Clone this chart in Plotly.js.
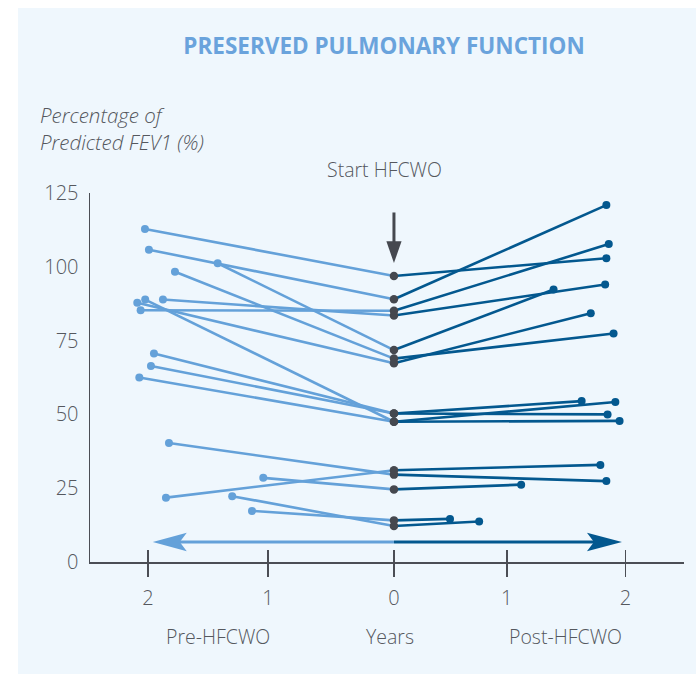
<!DOCTYPE html>
<html>
<head>
<meta charset="utf-8">
<script src="https://cdn.plot.ly/plotly-3.0.1.min.js"></script>
<style>
  html, body { margin:0; padding:0; background:#ffffff; }
  #panel { position:absolute; left:18px; top:8px; width:678px; height:666px; background:#eff7fd; }
  #chart { position:absolute; left:0; top:0; width:696px; height:674px; }
</style>
</head>
<body>
<div id="panel"></div>
<div id="chart"></div>
<script>
// ---- Data ----
const subjects   = ['A','B','C','D','E','F','G','H','I','J','K','L','M','N','O','P'];
const preYears   = [-2.075,-2.042,-1.469,-1.825,-2.139,-2.073,-1.925,-2.111,-2.0,-2.025,-2.122,-1.875,-1.089,-1.9,-1.348,-1.183];
const preFEV1    = [112.8, 105.8, 101.2, 98.3, 87.8, 88.9, 88.9, 85.3, 70.6, 66.4, 62.5, 40.3, 28.5, 21.8, 22.3, 17.3];
const startFEV1  = [96.9, 89.0, 71.8, 68.9, 67.3, 47.5, 83.5, 85.1, 50.3, 50.3, 47.5, 29.6, 24.6, 31.1, 12.2, 14.1];
const postYears  = [1.77, 1.77, 1.33, 1.83, 1.64, 1.88, 1.76, 1.79, 1.78, 1.564, 1.845, 1.77, 1.06, 1.72, 0.71, 0.467];
const postFEV1   = [102.9, 120.9, 92.3, 77.4, 84.3, 47.8, 94.0, 107.7, 50.0, 54.5, 54.2, 27.4, 26.2, 32.9, 13.7, 14.6];

const yTickVals  = [0, 25, 50, 75, 100, 125];
const xTickVals  = [-2.05, -1.05, 0, 0.94, 1.93];
const xTickText  = ['2', '1', '0', '1', '2'];

// arrow annotations
const startArrowTop = 118.4, startArrowTip = 101.3;
const spanArrowY = 6.8, spanArrowLeft = -2.01, spanArrowRight = 1.9;

// ---- Styles ----
const LIGHT = '#64a1d9';
const DARK  = '#03588f';
const GREY  = '#45484f';
const AXIS  = '#4b4e55';
const TEXT  = '#55585e';
const FONT  = 'Open Sans, Noto Sans, sans-serif';

// build segment traces
const preX = [], preY = [], postX = [], postY = [];
subjects.forEach((s, i) => {
  preX.push(preYears[i], 0, null);  preY.push(preFEV1[i], startFEV1[i], null);
  postX.push(0, postYears[i], null); postY.push(startFEV1[i], postFEV1[i], null);
});
const zeros = subjects.map(() => 0);

const traces = [
  {x: preX, y: preY, mode:'lines', line:{color:LIGHT, width:2.6}, hoverinfo:'skip', showlegend:false},
  {x: postX, y: postY, mode:'lines', line:{color:DARK, width:2.6}, hoverinfo:'skip', showlegend:false},
  {x: preYears, y: preFEV1, mode:'markers', marker:{color:LIGHT, size:8}, showlegend:false},
  {x: postYears, y: postFEV1, mode:'markers', marker:{color:DARK, size:8}, showlegend:false},
  {x: zeros, y: startFEV1, mode:'markers', marker:{color:GREY, size:8.5}, showlegend:false},
  {x: [0], y: [0], xaxis:'x2', mode:'markers', marker:{opacity:0, size:1}, hoverinfo:'skip', showlegend:false}
];

const xRange = [-2.533, 2.417];
const LBL = {family: FONT, size: 19.5, color: TEXT, weight: 300};

const layout = {
  width: 696, height: 674,
  paper_bgcolor: 'rgba(0,0,0,0)', plot_bgcolor: 'rgba(0,0,0,0)',
  margin: {l: 90, r: 12, t: 193, b: 112.3},
  font: {family: FONT, color: TEXT},
  title: {text: '<b>PRESERVED PULMONARY FUNCTION</b>', x: 384/696, xanchor:'center', y: 1 - 46/674, yanchor:'middle', yref:'container',
          font: {family: FONT, size: 22.5, color: '#6aa3dc'}},
  xaxis: {range: xRange, tickvals: xTickVals, ticktext: xTickText, ticks:'outside', ticklen: 13, tickwidth: 1.5, tickcolor: AXIS,
          showline: true, linecolor: AXIS, linewidth: 1.5, showgrid: false, zeroline: false,
          tickfont: {family: FONT, size: 20, color: TEXT, weight: 300}, ticklabelstandoff: 4},
  xaxis2: {range: xRange, overlaying: 'x', anchor: 'y', side: 'bottom', tickvals: xTickVals, ticks:'inside', ticklen: 12, tickwidth: 1.5,
           tickcolor: AXIS, showticklabels: false, showline: false, showgrid: false, zeroline: false},
  yaxis: {range: [0, 125], tickvals: yTickVals, ticks: '', showline: true, linecolor: AXIS, linewidth: 1.5,
          showgrid: false, zeroline: false, tickfont: {family: FONT, size: 20, color: TEXT, weight: 300}, ticklabelstandoff: 6},
  annotations: [
    {text: '<i>Percentage of</i>', xref:'paper', yref:'paper', x: (38-90)/594, y: (561.7-115)/368.7, xanchor:'left', yanchor:'middle',
     showarrow:false, font:{family: FONT, size: 20.5, color: TEXT, weight: 300}},
    {text: '<i>Predicted FEV1 (%)</i>', xref:'paper', yref:'paper', x: (38-90)/594, y: (561.7-142)/368.7, xanchor:'left', yanchor:'middle',
     showarrow:false, font:{family: FONT, size: 20.5, color: TEXT, weight: 300}},
    {text: 'Start HFCWO', xref:'x', yref:'paper', x: -0.075, y: (561.7-170)/368.7, xanchor:'center', yanchor:'middle',
     showarrow:false, font: LBL},
    {text: 'Pre-HFCWO', xref:'x', yref:'paper', x: -1.47, y: (561.7-636)/368.7, xanchor:'center', yanchor:'middle',
     showarrow:false, font: LBL},
    {text: 'Years', xref:'x', yref:'paper', x: -0.03, y: (561.7-636)/368.7, xanchor:'center', yanchor:'middle',
     showarrow:false, font: LBL},
    {text: 'Post-HFCWO', xref:'x', yref:'paper', x: 1.43, y: (561.7-636)/368.7, xanchor:'center', yanchor:'middle',
     showarrow:false, font: LBL}
  ],
  shapes: [
    {type:'line', xref:'x', yref:'y', x0: spanArrowLeft + 0.2, x1: 0, y0: spanArrowY, y1: spanArrowY, line:{color: LIGHT, width: 3}},
    {type:'line', xref:'x', yref:'y', x0: 0, x1: spanArrowRight - 0.2, y0: spanArrowY, y1: spanArrowY, line:{color: DARK, width: 3}},
    {type:'path', xref:'x', yref:'y', xsizemode:'pixel', ysizemode:'pixel', xanchor: spanArrowLeft, yanchor: spanArrowY,
     path:'M0,0 L34,9.3 L27,0 L34,-9.3 Z', fillcolor: LIGHT, line:{width:0}},
    {type:'path', xref:'x', yref:'y', xsizemode:'pixel', ysizemode:'pixel', xanchor: spanArrowRight, yanchor: spanArrowY,
     path:'M0,0 L-35,9.3 L-28,0 L-35,-9.3 Z', fillcolor: DARK, line:{width:0}},
    {type:'line', xref:'x', yref:'y', x0: 0, x1: 0, y0: startArrowTop, y1: startArrowTip + 5, line:{color: GREY, width: 3}},
    {type:'path', xref:'x', yref:'y', xsizemode:'pixel', ysizemode:'pixel', xanchor: 0, yanchor: startArrowTip,
     path:'M0,0 L-7.6,21.6 L7.6,21.6 Z', fillcolor: GREY, line:{width:0}}
  ]
};

Plotly.newPlot('chart', traces, layout, {displayModeBar: false, staticPlot: true});
</script>
</body>
</html>
